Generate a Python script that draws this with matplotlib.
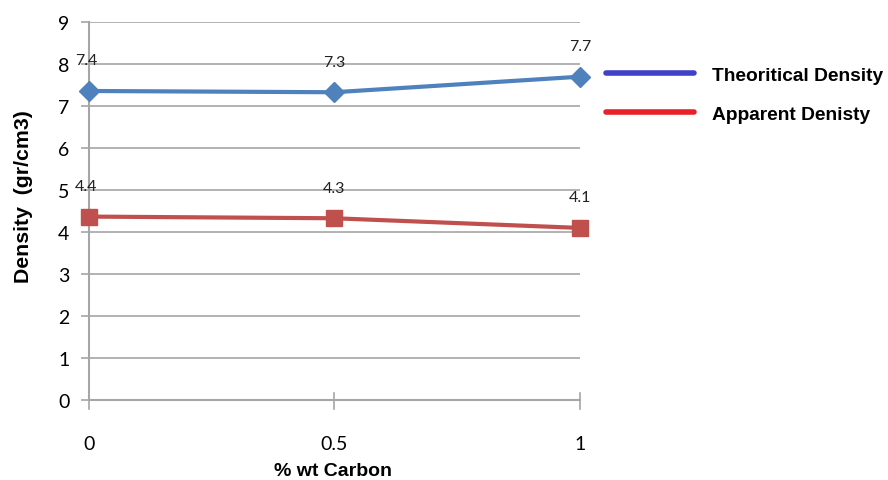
import matplotlib
matplotlib.use('Agg')
import matplotlib.pyplot as plt
from matplotlib.lines import Line2D

carbon = [0, 0.5, 1]
theoretical = [7.36, 7.33, 7.70]
apparent = [4.37, 4.33, 4.10]
series_names = ['Theoritical Density', 'Apparent Denisty']

fig = plt.figure(figsize=(8.88, 4.81), dpi=100)
ax = fig.add_axes([0.1, 0.166, 0.553, 0.786])

ax.plot(carbon, theoretical, color='#4F81BD', lw=3, marker='D', ms=10, zorder=3, clip_on=False)
ax.plot(carbon, apparent, color='#C0504D', lw=3, marker='s', ms=11, zorder=3, clip_on=False)

# value labels above each point
for xs, ys in [(carbon, theoretical), (carbon, apparent)]:
    for x, y in zip(xs, ys):
        ax.annotate(f'{y:.1f}', (x, y), xytext=(-2 if x == 0 else 0, 22),
                    textcoords='offset points', ha='center', va='center',
                    fontsize=11.5, family='Lato', color='#222222')

ax.set_xlim(0, 1)
ax.set_ylim(0, 9)
ax.set_xticks(carbon)
ax.set_xticklabels(['0', '0.5', '1'])
ax.set_yticks(range(10))
ax.grid(axis='y', color='#A6A6A6', lw=1.2)
ax.set_axisbelow(True)
for s in ['top', 'right']:
    ax.spines[s].set_visible(False)
for s in ['left', 'bottom']:
    ax.spines[s].set_color('#A6A6A6')
    ax.spines[s].set_linewidth(1.5)
ax.tick_params(axis='y', length=6, color='#A6A6A6', width=1.2, labelsize=14, pad=8)
ax.tick_params(axis='x', length=0, labelsize=14, pad=25)
for lab in ax.get_xticklabels() + ax.get_yticklabels():
    lab.set_family('Lato')
# small vertical tick marks on the x axis
for x in carbon:
    ax.plot([x, x], [-0.2, 0.18], color='#A6A6A6', lw=1.2, clip_on=False, zorder=2)

# axis titles
fig.text(0.375, 0.02, '% wt Carbon', ha='center', va='center',
         fontsize=14, fontweight='bold', family='Liberation Sans')
fig.text(0.027, 0.592, 'Density  (gr/cm3)', ha='center', va='center', rotation=90,
         fontsize=15.3, fontweight='bold', family='Liberation Sans')

handles = [Line2D([], [], color='#4040C8', lw=4, solid_capstyle='round'),
           Line2D([], [], color='#E8202A', lw=4, solid_capstyle='round')]
fig.legend(handles, series_names, loc='upper left', bbox_to_anchor=(0.663, 0.895),
           frameon=False, handlelength=4.6, handletextpad=0.95, labelspacing=1.1,
           prop={'family': 'Liberation Sans', 'weight': 'bold', 'size': 13.8})

fig.savefig('out.png', dpi=100)
